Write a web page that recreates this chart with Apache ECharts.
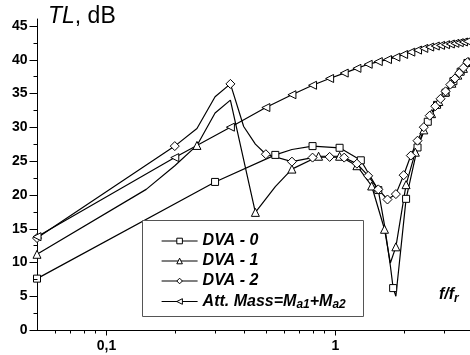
<!DOCTYPE html>
<html>
<head>
<meta charset="utf-8">
<script src="https://cdn.jsdelivr.net/npm/echarts@6/dist/echarts.min.js"></script>
<style>
  html, body { margin: 0; padding: 0; background: #fff; }
  #c { width: 470px; height: 355px; }
</style>
</head>
<body>
<div id="c"></div>
<script>
const FONT = '"Liberation Sans", Arial, Helvetica, sans-serif';

// Frequency ratio f/fr and transmission loss TL (dB) for each configuration.
// Frequencies listed in the *Plain arrays are curve vertices drawn without a marker.
const dva0F  = [0.05, 0.3, 0.55, 0.65, 0.8, 1.05, 1.3, 1.55, 1.65, 1.75, 1.8, 1.85, 2.05, 2.3, 2.55, 2.8, 3.05, 3.3, 3.55, 3.8, 4.05];
const dva0TL = [7.6, 21.9, 25.9, 26.7, 27.2, 26.95, 25.1, 20.7, 15.5, 9.5, 6.2, 5.0, 19.4, 27.0, 30.8, 33.3, 35.1, 36.8, 38.2, 39.5, 40.6];
const dva0Plain = [0.65, 1.65, 1.75, 1.85];

const dva1F  = [0.05, 0.15, 0.2, 0.25, 0.3, 0.35, 0.45, 0.5, 0.55, 0.65, 0.85, 1.05, 1.25, 1.45, 1.65, 1.75, 1.85, 2.05, 2.25, 2.45, 2.65, 2.85, 3.05, 3.25, 3.45, 3.65, 3.85, 4.05];
const dva1TL = [11.2, 20.8, 24.3, 27.3, 32.1, 34.0, 17.4, 19.4, 21.2, 23.8, 25.7, 25.7, 24.3, 21.3, 14.9, 9.9, 12.3, 21.5, 26.3, 29.6, 32.0, 33.8, 35.2, 36.5, 37.7, 38.7, 39.7, 40.5];
const dva1Plain = [0.15, 0.2, 0.3, 0.35, 0.5, 0.55, 1.75];

const dva2F  = [0.05, 0.2, 0.25, 0.3, 0.35, 0.4, 0.45, 0.5, 0.65, 0.8, 0.95, 1.1, 1.25, 1.4, 1.55, 1.7, 1.85, 2.0, 2.15, 2.3, 2.45, 2.6, 2.75, 2.9, 3.05, 3.2, 3.35, 3.5, 3.65, 3.8, 3.95];
const dva2TL = [13.6, 27.2, 29.8, 34.5, 36.4, 30.1, 27.5, 26.0, 24.9, 25.5, 25.6, 25.5, 24.6, 22.8, 20.8, 19.3, 20.1, 22.9, 25.8, 28.0, 30.0, 31.7, 33.1, 34.2, 35.3, 36.3, 37.2, 38.0, 38.8, 39.6, 40.3];
const dva2Plain = [0.25, 0.3, 0.4, 0.45];

const massF  = [0.05, 0.2, 0.35, 0.5, 0.65, 0.8, 0.95, 1.1, 1.25, 1.4, 1.55, 1.7, 1.85, 2.0, 2.15, 2.3, 2.45, 2.6, 2.75, 2.9, 3.05, 3.2, 3.35, 3.5, 3.65, 3.8, 3.95];
const massTL = [13.8, 25.5, 30.0, 32.9, 34.8, 36.2, 37.2, 38.0, 38.7, 39.3, 39.7, 40.0, 40.35, 40.75, 41.1, 41.4, 41.65, 41.85, 42.0, 42.1, 42.2, 42.3, 42.4, 42.5, 42.6, 42.7, 42.8];
const massPlain = [];

const seriesNames = ['DVA - 0', 'DVA - 1', 'DVA - 2', 'Att. Mass'];

// Axis ticks and labels
const xMajor = [0.1, 1];
const xMajorText = ['0,1', '1'];
const xMinor = [0.06, 0.07, 0.08, 0.09, 0.2, 0.3, 0.4, 0.5, 0.6, 0.7, 0.8, 0.9, 2, 3];
const yMajor = [0, 5, 10, 15, 20, 25, 30, 35, 40, 45];
const yMajorText = ['0', '5', '10', '15', '20', '25', '30', '35', '40', '45'];
const yMinor = [2.5, 7.5, 12.5, 17.5, 22.5, 27.5, 32.5, 37.5, 42.5];

function buildData(fs, vs, plain) {
  return fs.map(function (f, i) {
    return plain.indexOf(f) >= 0 ? { value: [f, vs[i]], symbol: 'none' } : [f, vs[i]];
  });
}

function lineSeries(name, data, symbol, size, rotate) {
  return {
    name: name,
    type: 'line',
    data: data,
    symbol: symbol,
    symbolSize: size,
    symbolRotate: rotate || 0,
    showAllSymbol: true,
    smooth: false,
    lineStyle: { color: '#000', width: 1.2 },
    itemStyle: { color: '#fff', borderColor: '#000', borderWidth: 1 },
    emphasis: { disabled: true },
    z: 2
  };
}

const chart = echarts.init(document.getElementById('c'), null, { renderer: 'canvas' });

chart.setOption({
  animation: false,
  backgroundColor: '#fff',
  grid: { left: 37, right: 0, top: 19, bottom: 25, containLabel: false },
  xAxis: {
    type: 'log', logBase: 10, min: 0.05, max: 3.9,
    axisLine: { show: true, onZero: false, lineStyle: { color: '#000', width: 1 } },
    axisTick: { show: false }, axisLabel: { show: false }, splitLine: { show: false }
  },
  yAxis: {
    type: 'value', min: 0, max: 46,
    axisLine: { show: true, onZero: false, lineStyle: { color: '#000', width: 1 } },
    axisTick: { show: false }, axisLabel: { show: false }, splitLine: { show: false }
  },
  legend: {
    orient: 'vertical',
    left: 161, top: 232, padding: 0,
    itemWidth: 36, itemHeight: 7, itemGap: 2,
    data: seriesNames,
    itemStyle: { color: '#fff', borderColor: '#000', borderWidth: 1 },
    lineStyle: { color: '#000', width: 1.2 },
    formatter: function (name) {
      if (name === 'Att. Mass') return '{n|Att. Mass=M}{s|a1}{n|+M}{s|a2}';
      return '{n|' + name + '}';
    },
    textStyle: {
      color: '#000', fontFamily: FONT, fontSize: 16, fontWeight: 'bold', fontStyle: 'italic', lineHeight: 18,
      rich: {
        n: { color: '#000', fontFamily: FONT, fontSize: 16, fontWeight: 'bold', fontStyle: 'italic', lineHeight: 18 },
        s: { color: '#000', fontFamily: FONT, fontSize: 12, fontWeight: 'bold', fontStyle: 'italic', lineHeight: 18, padding: [7, 0, 0, 0] }
      }
    },
    z: 5
  },
  series: [
    lineSeries('DVA - 0', buildData(dva0F, dva0TL, dva0Plain), 'rect', 7),
    lineSeries('DVA - 1', buildData(dva1F, dva1TL, dva1Plain), 'triangle', 8),
    lineSeries('DVA - 2', buildData(dva2F, dva2TL, dva2Plain), 'diamond', 9),
    lineSeries('Att. Mass', buildData(massF, massTL, massPlain), 'triangle', 8, 90)
  ]
});

// Tick marks, tick labels and axis titles placed through the chart's own scales
const px = function (f) { return chart.convertToPixel({ xAxisIndex: 0 }, f); };
const py = function (v) { return chart.convertToPixel({ yAxisIndex: 0 }, v); };
const x0 = Math.round(px(0.05)) + 0.5;
const y0 = Math.round(py(0)) + 0.5;
const tickStyle = { stroke: '#000', lineWidth: 1 };
const labelFont = 'bold 14px ' + FONT;
const els = [];

xMajor.forEach(function (f, i) {
  const x = Math.round(px(f)) + 0.5;
  els.push({ type: 'line', shape: { x1: x, y1: y0, x2: x, y2: y0 + 5 }, style: tickStyle, z: 6 });
  els.push({ type: 'text', x: x, y: y0 + 9, style: { text: xMajorText[i], font: labelFont, fill: '#000', align: 'center', verticalAlign: 'top' }, z: 6 });
});
xMinor.forEach(function (f) {
  const x = Math.round(px(f)) + 0.5;
  els.push({ type: 'line', shape: { x1: x, y1: y0, x2: x, y2: y0 + 3 }, style: tickStyle, z: 6 });
});
yMajor.forEach(function (v, i) {
  const y = Math.round(py(v)) + 0.5;
  els.push({ type: 'line', shape: { x1: x0 - 8, y1: y, x2: x0, y2: y }, style: tickStyle, z: 6 });
  els.push({ type: 'text', x: x0 - 10, y: y, style: { text: yMajorText[i], font: labelFont, fill: '#000', align: 'right', verticalAlign: 'middle' }, z: 6 });
});
yMinor.forEach(function (v) {
  const y = Math.round(py(v)) + 0.5;
  els.push({ type: 'line', shape: { x1: x0 - 4, y1: y, x2: x0, y2: y }, style: tickStyle, z: 6 });
});

// Legend frame
els.push({ type: 'rect', shape: { x: 142.5, y: 220.5, width: 221, height: 96 }, style: { fill: '#fff', stroke: '#555', lineWidth: 1 }, z: 3 });

// Axis titles
els.push({
  type: 'text', x: 48, y: 5, z: 6,
  style: {
    text: '{i|TL}{n|, dB}', verticalAlign: 'top',
    rich: {
      i: { fontFamily: FONT, fontSize: 23, fontStyle: 'italic', fill: '#000' },
      n: { fontFamily: FONT, fontSize: 23, fill: '#000' }
    }
  }
});
els.push({
  type: 'text', x: 439, y: 286, z: 6,
  style: {
    text: '{m|f/f}{s|r}', verticalAlign: 'top',
    rich: {
      m: { fontFamily: FONT, fontSize: 16, fontWeight: 'bold', fontStyle: 'italic', fill: '#000', lineHeight: 18 },
      s: { fontFamily: FONT, fontSize: 12, fontWeight: 'bold', fontStyle: 'italic', fill: '#000', lineHeight: 18, padding: [8, 0, 0, 0] }
    }
  }
});

chart.setOption({ graphic: { elements: els } });
</script>
</body>
</html>
